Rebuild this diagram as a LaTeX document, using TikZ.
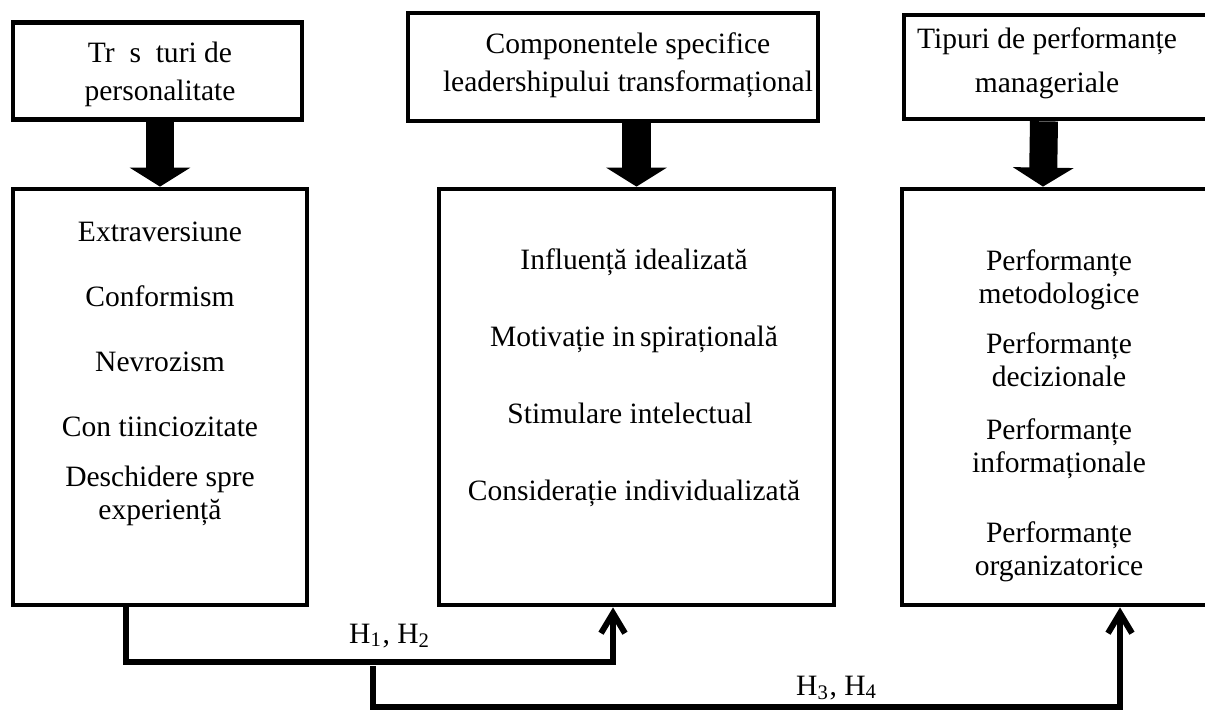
\documentclass[tikz,border=0pt]{standalone}
\usepackage{fontspec}
\setmainfont{Liberation Serif}
\usetikzlibrary{arrows.meta}

\begin{document}
\begin{tikzpicture}[x=0.01cm,y=-0.01cm,
  box/.style={draw,line width=1.3pt,inner sep=0pt},
  head/.style={font=\fontsize{8.4}{10.6}\selectfont,align=center,anchor=base,inner sep=0pt},
  item/.style={font=\fontsize{8.4}{9.2}\selectfont,align=center,anchor=base,inner sep=0pt},
  bigarrow/.style={line width=0.28cm,-{Triangle[length=0.19cm,width=0.6cm]}},
  link/.style={line width=1.7pt,-{Straight Barb[length=0.2cm,width=0.24cm]}}]
\useasboundingbox (0,0) rectangle (1205,711);
\clip (0,0) rectangle (1205,711);

\node[box,minimum width=2.89cm,minimum height=0.965cm] (trasaturi) at (157.5,71) {};
\node[box,minimum width=4.10cm,minimum height=1.08cm] (componente) at (613,67) {};
\node[box,minimum width=3.04cm,minimum height=1.04cm] (performante) at (1056,67) {};

\node[box,minimum width=2.94cm,minimum height=4.16cm] (trasaturiList) at (160,397) {};
\node[box,minimum width=3.95cm,minimum height=4.16cm] (componenteList) at (636.5,397) {};
\node[box,minimum width=3.06cm,minimum height=4.16cm] (performanteList) at (1055,397) {};

\node[head] (t1) at (160,100) {Tr~~s~~turi de\\personalitate};
\node[head] (t2) at (628,91) {Componentele specifice\\leadershipului transformațional};
\node[head] (t3) at (1047,92) {Tipuri de performanțe\\[1.7pt]manageriale};

\node[item] (extra) at (160,241) {Extraversiune};
\node[item] (conf) at (160,306) {Conformism};
\node[item] (nevro) at (160,371) {Nevrozism};
\node[item] (consti) at (160,436) {Con~tiinciozitate};
\node[item] (desch) at (160,519) {Deschidere spre\\experiență};

\node[item] (infl) at (634,269) {Influență idealizată};
\node[item] (motiv) at (634,346) {Motivație in\,spirațională};
\node[item] (stim) at (630,423) {Stimulare intelectual};
\node[item] (consid) at (634,500) {Considerație individualizată};

\node[item] (pmet) at (1059,303) {Performanțe\\metodologice};
\node[item] (pdec) at (1059,386) {Performanțe\\decizionale};
\node[item] (pinf) at (1059,472) {Performanțe\\informaționale};
\node[item] (porg) at (1059,575) {Performanțe\\organizatorice};

\draw[bigarrow] (trasaturi.south -| trasaturiList.north) -- (trasaturiList.north);
\draw[bigarrow] (componente.south -| componenteList.north) -- (componenteList.north);
\draw[bigarrow] ([xshift=-0.12cm]performante.south) -- ([xshift=-0.12cm]performanteList.north);

\coordinate (k1) at (126,662);
\coordinate (k2) at (613,662);
\coordinate (k3) at (373,666);
\coordinate (k4) at (1120,707);
\draw[link] (trasaturiList.south -| k1) |- (k2) -- (componenteList.south -| k2);
\draw[link] (k3) |- (k4) -- (performanteList.south -| k4);

\node[head] (h12) at (390,643) {H\textsubscript{1}, H\textsubscript{2}};
\node[head] (h34) at (837,695) {H\textsubscript{3}, H\textsubscript{4}};
\end{tikzpicture}
\end{document}
